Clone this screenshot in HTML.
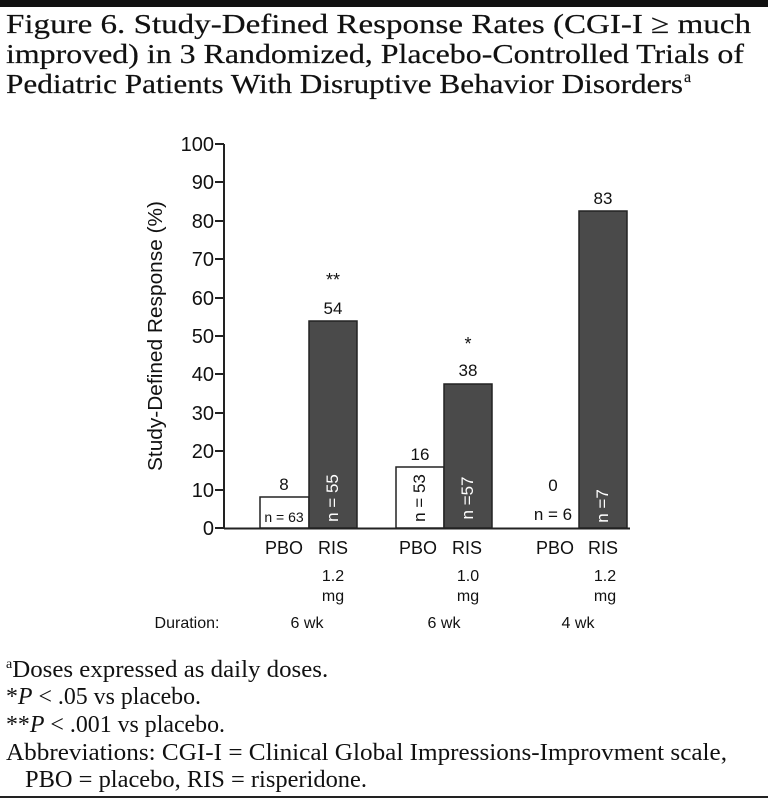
<!DOCTYPE html>
<html><head><meta charset="utf-8"><style>body{margin:0;background:#fff}svg{display:block}</style></head><body>
<svg width="768" height="801" xmlns="http://www.w3.org/2000/svg">
<rect x="0" y="0" width="768" height="7" fill="#111"/>
<g font-family="Liberation Serif, serif" font-size="27" fill="#111" stroke="#111" stroke-width="0.2">
<text x="6" y="33" textLength="745" lengthAdjust="spacingAndGlyphs">Figure 6. Study-Defined Response Rates (CGI-I ≥ much</text>
<text x="6" y="63" textLength="738" lengthAdjust="spacingAndGlyphs">improved) in 3 Randomized, Placebo-Controlled Trials of</text>
<text x="6" y="93" textLength="677" lengthAdjust="spacingAndGlyphs">Pediatric Patients With Disruptive Behavior Disorders</text>
<text x="684" y="82" font-size="16">a</text>
</g>
<g font-family="Liberation Sans, sans-serif" fill="#111">
<line x1="224" y1="144" x2="224" y2="529" stroke="#222" stroke-width="2"/>
<line x1="224" y1="528.5" x2="630" y2="528.5" stroke="#222" stroke-width="2"/>
<g stroke="#222" stroke-width="2">
<line x1="215" y1="528" x2="224" y2="528"/><line x1="215" y1="490" x2="224" y2="490"/><line x1="215" y1="451" x2="224" y2="451"/><line x1="215" y1="413" x2="224" y2="413"/><line x1="215" y1="374" x2="224" y2="374"/><line x1="215" y1="336" x2="224" y2="336"/><line x1="215" y1="298" x2="224" y2="298"/><line x1="215" y1="259" x2="224" y2="259"/><line x1="215" y1="221" x2="224" y2="221"/><line x1="215" y1="182" x2="224" y2="182"/><line x1="215" y1="144" x2="224" y2="144"/>
</g>
<g font-size="20" text-anchor="end">
<text x="214" y="535">0</text><text x="214" y="497">10</text><text x="214" y="458">20</text><text x="214" y="420">30</text><text x="214" y="381">40</text><text x="214" y="343">50</text><text x="214" y="305">60</text><text x="214" y="266">70</text><text x="214" y="228">80</text><text x="214" y="189">90</text><text x="214" y="151">100</text>
</g>
<text transform="translate(162,336) rotate(-90)" font-size="20" text-anchor="middle" textLength="270" lengthAdjust="spacingAndGlyphs">Study-Defined Response (%)</text>
<rect x="260" y="497" width="49" height="31" fill="#fff" stroke="#222" stroke-width="1.5"/>
<rect x="309" y="321" width="48" height="207" fill="#4a4a4a" stroke="#222" stroke-width="1.5"/>
<rect x="396" y="467" width="48" height="61" fill="#fff" stroke="#222" stroke-width="1.5"/>
<rect x="444" y="384" width="48" height="144" fill="#4a4a4a" stroke="#222" stroke-width="1.5"/>
<rect x="579" y="211" width="48" height="317" fill="#4a4a4a" stroke="#222" stroke-width="1.5"/>
<g font-size="17" text-anchor="middle">
<text x="284" y="490">8</text><text x="333" y="314">54</text><text x="333" y="286" font-size="18">**</text>
<text x="420" y="460">16</text><text x="468" y="376">38</text><text x="468" y="350" font-size="18">*</text>
<text x="553" y="491">0</text><text x="603" y="204">83</text>
<text x="284" y="522" font-size="14">n = 63</text>
<text x="553" y="520" font-size="17">n = 6</text>
<text transform="translate(338,498) rotate(-90)" fill="#fff">n = 55</text>
<text transform="translate(425,498) rotate(-90)">n = 53</text>
<text transform="translate(473,498) rotate(-90)" fill="#fff">n =57</text>
<text transform="translate(608,506) rotate(-90)" fill="#fff">n =7</text>
</g>
<g font-size="18" text-anchor="middle">
<text x="284" y="554">PBO</text><text x="333" y="554">RIS</text>
<text x="418" y="554">PBO</text><text x="467" y="554">RIS</text>
<text x="555" y="554">PBO</text><text x="603" y="554">RIS</text>
</g>
<g font-size="16" text-anchor="middle">
<text x="333" y="581">1.2</text><text x="333" y="601">mg</text>
<text x="468" y="581">1.0</text><text x="468" y="601">mg</text>
<text x="605" y="581">1.2</text><text x="605" y="601">mg</text>
<text x="187" y="628">Duration:</text>
<text x="307" y="628">6 wk</text><text x="444" y="628">6 wk</text><text x="578" y="628">4 wk</text>
</g>
</g>
<g font-family="Liberation Serif, serif" font-size="24" fill="#111">
<text x="6" y="677"><tspan font-size="14" dy="-9">a</tspan><tspan dy="9" textLength="316" lengthAdjust="spacingAndGlyphs">Doses expressed as daily doses.</tspan></text>
<text x="6" y="704" textLength="195" lengthAdjust="spacingAndGlyphs">*<tspan font-style="italic">P</tspan> &lt; .05 vs placebo.</text>
<text x="6" y="732" textLength="219" lengthAdjust="spacingAndGlyphs">**<tspan font-style="italic">P</tspan> &lt; .001 vs placebo.</text>
<text x="6" y="760" textLength="721" lengthAdjust="spacingAndGlyphs">Abbreviations: CGI-I = Clinical Global Impressions-Improvment scale,</text>
<text x="25" y="787" textLength="342" lengthAdjust="spacingAndGlyphs">PBO = placebo, RIS = risperidone.</text>
</g>
<rect x="0" y="796" width="768" height="2" fill="#222"/>
</svg>
</body></html>
